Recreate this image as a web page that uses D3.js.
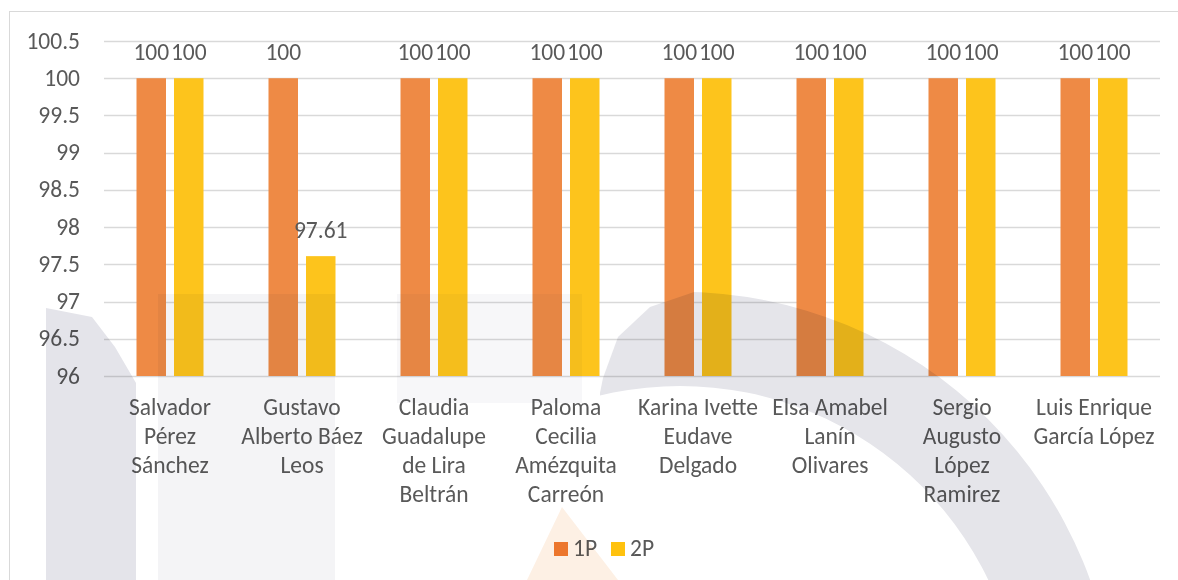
<!DOCTYPE html>
<html>
<head>
<meta charset="utf-8">
<script src="https://cdn.jsdelivr.net/npm/d3@7"></script>
<style>
  html, body { margin: 0; padding: 0; background: #fff; }
  svg { display: block; }
  svg text { font-family: Calibri, Carlito, Lato, "Liberation Sans", sans-serif; font-size: 23.5px; }
  .wm { mix-blend-mode: multiply; pointer-events: none; }
</style>
</head>
<body>
<svg id="chart" width="1178" height="580"></svg>
<script>
// ---- data ----
const categories = [
  "Salvador\nPérez\nSánchez",
  "Gustavo\nAlberto Báez\nLeos",
  "Claudia\nGuadalupe\nde Lira\nBeltrán",
  "Paloma\nCecilia\nAmézquita\nCarreón",
  "Karina Ivette\nEudave\nDelgado",
  "Elsa Amabel\nLanín\nOlivares",
  "Sergio\nAugusto\nLópez\nRamirez",
  "Luis Enrique\nGarcía López"
];
const seriesNames = ["1P", "2P"];
const values1P = [100, 100, 100, 100, 100, 100, 100, 100];
const values2P = [100, 97.61, 100, 100, 100, 100, 100, 100];
const yTicks = [96, 96.5, 97, 97.5, 98, 98.5, 99, 99.5, 100, 100.5];

const barColors = { "1P": "#EE8A45", "2P": "#FDC41C" };
const legendColors = { "1P": "#EE7D31", "2P": "#FFC20E" };
const textColor = "#595959";

const svg = d3.select("#chart");

// chart frame
svg.append("rect")
  .attr("x", 9.5).attr("y", 11.5)
  .attr("width", 1300).attr("height", 700)
  .attr("fill", "#fff").attr("stroke", "#d9d9d9").attr("stroke-width", 1);

const plot = { left: 104, right: 1160, top: 41, bottom: 376 };

const x0 = d3.scaleBand().domain(d3.range(categories.length))
  .range([plot.left, plot.right]).paddingInner(0).paddingOuter(0);
const groupW = 67;
const x1 = d3.scaleBand().domain(seriesNames).range([0, groupW]).paddingInner(0.2134).paddingOuter(0);
const y = d3.scaleLinear().domain([96, 100.5]).range([plot.bottom, plot.top]);

// gridlines
svg.append("g")
  .selectAll("line").data(yTicks).join("line")
  .attr("x1", plot.left).attr("x2", plot.right)
  .attr("y1", d => Math.round(y(d)) + 0.5).attr("y2", d => Math.round(y(d)) + 0.5)
  .attr("stroke", "#d9d9d9").attr("stroke-width", 1.3);

// y axis labels
const yAxis = d3.axisLeft(y).tickValues(yTicks).tickSize(0).tickPadding(0)
  .tickFormat(d => d3.format("")(d));
const yg = svg.append("g").attr("transform", `translate(80,0)`).call(yAxis)
  .attr("font-family", null).attr("font-size", null);
yg.select(".domain").remove();
yg.selectAll("text").attr("fill", textColor).attr("dy", 7);

// bars
const rows = categories.map((c, i) => ({ i, vals: [
  { key: "1P", v: values1P[i] },
  { key: "2P", v: values2P[i] }
]}));

const groups = svg.append("g").selectAll("g").data(rows).join("g")
  .attr("transform", d => `translate(${x0(d.i) + x0.bandwidth() / 2 - groupW / 2},0)`);

groups.selectAll("rect").data(d => d.vals).join("rect")
  .attr("x", d => x1(d.key))
  .attr("y", d => y(d.v))
  .attr("width", x1.bandwidth())
  .attr("height", d => y(96) - y(d.v))
  .attr("fill", d => barColors[d.key]);

// data labels
groups.selectAll("text.lbl").data(d => d.vals).join("text")
  .attr("class", "lbl")
  .attr("x", d => x1(d.key) + x1.bandwidth() / 2)
  .attr("y", d => y(d.v) - 18)
  .attr("text-anchor", "middle")
  .attr("fill", textColor)
  .text(d => d3.format("")(d.v));

// category labels
const xAxis = d3.axisBottom(x0).tickSize(0).tickFormat(i => categories[i]);
const xg = svg.append("g").attr("transform", `translate(0,${plot.bottom})`).call(xAxis)
  .attr("font-family", null).attr("font-size", null);
xg.select(".domain").remove();
xg.selectAll(".tick text").each(function(i) {
  const t = d3.select(this);
  const lines = categories[i].split("\n");
  t.text(null).attr("y", 0).attr("dy", null).attr("fill", textColor);
  lines.forEach((ln, k) => {
    t.append("tspan").attr("x", 0).attr("y", 39 + k * 29).text(ln);
  });
});

// legend
const legend = svg.append("g");
const legendItems = [
  { key: "1P", x: 554 },
  { key: "2P", x: 611 }
];
legendItems.forEach(it => {
  legend.append("rect").attr("x", it.x).attr("y", 542).attr("width", 14).attr("height", 14)
    .attr("fill", legendColors[it.key]);
  legend.append("text").attr("x", it.x + 19).attr("y", 556)
    .attr("fill", textColor).text(it.key);
});

// faint background watermark of the source document
const wm = svg.append("g");
wm.append("path").attr("class", "wm")
  .attr("d", "M46,308 L92,317 L115,347 L136,383 L136,580 L46,580 Z")
  .attr("fill", "#e4e4ea");
wm.append("rect").attr("class", "wm")
  .attr("x", 158).attr("y", 294).attr("width", 177).attr("height", 286)
  .attr("fill", "#f4f4f6");
wm.append("rect").attr("class", "wm")
  .attr("x", 397).attr("y", 294).attr("width", 185).attr("height", 109)
  .attr("fill", "#f7f7f9");
wm.append("path").attr("class", "wm")
  .attr("d", "M562,507 L618,580 L527,580 Z")
  .attr("fill", "#fdf0e4");
svg.append("defs").append("clipPath").attr("id", "wmclip")
  .append("path").attr("d", "M600,580 L600,393 L603,378 L618,337 L650,307 L700,290 L1200,290 L1200,580 Z");
const arc = d3.arc().innerRadius(342).outerRadius(436)
  .startAngle(-Math.PI / 2).endAngle(Math.PI / 2);
wm.append("g").attr("class", "wm").attr("clip-path", "url(#wmclip)")
  .append("path")
  .attr("transform", "translate(680,728)")
  .attr("d", arc())
  .attr("fill", "#e5e5ea");
</script>
</body>
</html>
